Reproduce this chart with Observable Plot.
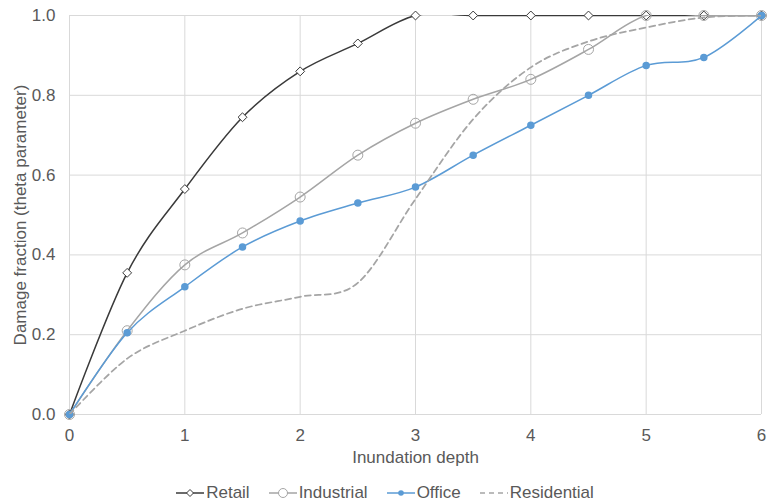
<!DOCTYPE html>
<html>
<head>
<meta charset="utf-8">
<script src="https://cdn.jsdelivr.net/npm/d3@7"></script>
<script src="https://cdn.jsdelivr.net/npm/@observablehq/plot@0.6"></script>
<style>
  html, body { margin: 0; padding: 0; background: #fff; }
  body { width: 768px; height: 504px; overflow: hidden; font-family: "Liberation Sans", Arial, sans-serif; }
  #legend { display: flex; justify-content: center; align-items: center; gap: 19px; font-size: 17px; color: #595959; margin-left: 2px; margin-top: 2px; height: 26px; }
  #legend .item { display: flex; align-items: center; gap: 2px; }
  #legend svg { display: block; }
</style>
</head>
<body>
<div id="chart"></div>
<div id="legend"></div>
<script>
const depth = [0, 0.5, 1, 1.5, 2, 2.5, 3, 3.5, 4, 4.5, 5, 5.5, 6];
const retail = [0, 0.355, 0.565, 0.745, 0.86, 0.93, 1.0, 1.0, 1.0, 1.0, 1.0, 1.0, 1.0];
const industrial = [0, 0.21, 0.375, 0.455, 0.545, 0.65, 0.73, 0.79, 0.84, 0.915, 1.0, 1.0, 1.0];
const office = [0, 0.205, 0.32, 0.42, 0.485, 0.53, 0.57, 0.65, 0.725, 0.80, 0.875, 0.895, 1.0];
const residential = [0, 0.14, 0.21, 0.265, 0.295, 0.33, 0.54, 0.74, 0.87, 0.935, 0.97, 0.995, 1.0];
const seriesNames = ["Retail", "Industrial", "Office", "Residential"];
const xTicks = [0, 1, 2, 3, 4, 5, 6];
const yTicks = [0, 0.2, 0.4, 0.6, 0.8, 1.0];

const rows = (vals) => depth.map((d, i) => ({x: d, y: vals[i]}));
const R = rows(retail), I = rows(industrial), O = rows(office), S = rows(residential);

const cRetail = "#3a3a3a", cGray = "#a5a5a5", cBlue = "#5b9bd5";
const fs = 17;

const chart = Plot.plot({
  width: 768,
  height: 478,
  marginLeft: 69,
  marginRight: 7,
  marginTop: 15,
  marginBottom: 64,
  style: {fontFamily: "'Liberation Sans', Arial, sans-serif", fontSize: fs + "px", color: "#595959", background: "#fff", overflow: "visible"},
  x: {domain: [0, 6]},
  y: {domain: [0, 1]},
  marks: [
    Plot.gridX(xTicks, {stroke: "#d9d9d9", strokeOpacity: 1}),
    Plot.gridY(yTicks, {stroke: "#d9d9d9", strokeOpacity: 1}),
    Plot.axisX(xTicks, {tickSize: 0, tickPadding: 14, tickFormat: d => String(d), label: null, fontSize: fs}),
    Plot.axisY(yTicks, {tickSize: 0, tickPadding: 14, tickFormat: d3.format(".1f"), label: null, fontSize: fs}),
    Plot.text(["Inundation depth"], {frameAnchor: "bottom", lineAnchor: "middle", textAnchor: "middle", dy: 43, fontSize: fs, fill: "#595959"}),
    Plot.text(["Damage fraction (theta parameter)"], {frameAnchor: "left", textAnchor: "middle", lineAnchor: "middle", dx: -49, rotate: -90, fontSize: fs, fill: "#595959"}),
    Plot.line(R, {x: "x", y: "y", curve: "cardinal", stroke: cRetail, strokeWidth: 1.5, clip: true}),
    Plot.dot(R, {x: "x", y: "y", symbol: "diamond2", r: 4, fill: "#fff", stroke: cRetail, strokeWidth: 1}),
    Plot.line(I, {x: "x", y: "y", curve: "cardinal", stroke: cGray, strokeWidth: 1.5, clip: true}),
    Plot.dot(I, {x: "x", y: "y", symbol: "circle", r: 5, fill: "none", stroke: cGray, strokeWidth: 1}),
    Plot.line(O, {x: "x", y: "y", curve: "cardinal", stroke: cBlue, strokeWidth: 1.5, clip: true}),
    Plot.dot(O, {x: "x", y: "y", symbol: "circle", r: 3, fill: cBlue, stroke: cBlue}),
    Plot.line(S, {x: "x", y: "y", curve: "cardinal", stroke: cGray, strokeWidth: 1.75, strokeDasharray: "6,4", clip: true})
  ]
});
document.getElementById("chart").appendChild(chart);

// Legend
const legend = document.getElementById("legend");
const symbols = {
  Retail: `<line x1="0" y1="8" x2="28" y2="8" stroke="${cRetail}" stroke-width="1.5"/><path d="M14,4.5 L17.5,8 L14,11.5 L10.5,8 Z" fill="#fff" stroke="${cRetail}"/>`,
  Industrial: `<line x1="0" y1="8" x2="28" y2="8" stroke="${cGray}" stroke-width="1.5"/><circle cx="14" cy="8" r="4.5" fill="#fff" stroke="${cGray}"/>`,
  Office: `<line x1="0" y1="8" x2="28" y2="8" stroke="${cBlue}" stroke-width="1.5"/><circle cx="14" cy="8" r="2.8" fill="${cBlue}"/>`,
  Residential: `<line x1="0" y1="8" x2="28" y2="8" stroke="${cGray}" stroke-width="1.5" stroke-dasharray="5,4"/>`
};
seriesNames.forEach(name => {
  const it = document.createElement("div");
  it.className = "item";
  it.innerHTML = `<svg width="28" height="16">${symbols[name]}</svg><span>${name}</span>`;
  legend.appendChild(it);
});
</script>
</body>
</html>
